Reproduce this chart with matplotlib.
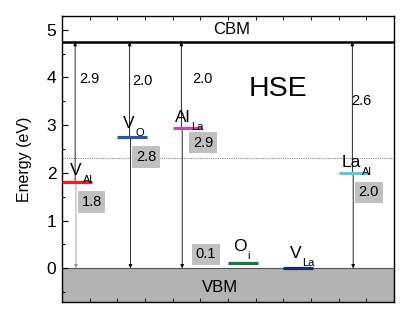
import matplotlib
matplotlib.use("Agg")
import matplotlib.pyplot as plt
from matplotlib.ticker import MultipleLocator

plt.rcParams['font.family'] = ['Liberation Sans', 'DejaVu Sans']

# data
cbm = 4.74
species = ["V", "V", "Al", "O", "V", "La"]
sites = ["Al", "O", "La", "i", "La", "Al"]
levels = [1.80, 2.75, 2.93, 0.12, 0.01, 1.99]
colors = ['#e8232a', '#2c56a8', '#c64da6', '#137a3f', '#1b2a6e', '#5ec8de']
level_labels = ["1.8", "2.8", "2.9", "0.1", None, "2.0"]
gap_labels = ["2.9", "2.0", "2.0", None, None, "2.6"]
has_arrows = [True, True, True, False, False, True]
ref_line = 2.32

fig = plt.figure(figsize=(4.15, 3.18), dpi=100)
ax = fig.add_axes([0.149, 0.050, 0.800, 0.900])
ax.set_xlim(0, 12)
ax.set_ylim(-0.71, 5.29)

# bands
ax.axhspan(-0.71, 0, facecolor='#b3b3b3', edgecolor='#555555', linewidth=0.8, zorder=1)
ax.axhline(cbm, color='black', linewidth=1.8, zorder=3)
ax.axhline(ref_line, color='#777777', linestyle=(0, (1.5, 1.2)), linewidth=0.6, zorder=2)
ax.text(6.15, 5.0, "CBM", ha='center', va='center', fontsize=12)
ax.text(5.7, -0.4, "VBM", ha='center', va='center', fontsize=12)
ax.text(7.8, 3.75, "HSE", ha='center', va='center', fontsize=20.5)

# layout of labels around each level segment
seg_w = 1.08
arrow_dx = [0.48, 0.45, 0.32, 0, 0, 0.5]
name_x = [0.29, 2.2, 4.08, 6.18, 8.24, 10.12]
name_y = [1.95, 2.94, 3.07, 0.36, 0.21, 2.12]
gap_pos = [(1.0, 3.97), (2.93, 3.93), (5.1, 3.97), None, None, (10.84, 3.51)]
box_pos = [(1.08, 1.39), (3.05, 2.33), (5.1, 2.63), (5.2, 0.29), None, (11.1, 1.59)]

for i, (e, c) in enumerate(zip(levels, colors)):
    x0 = 2 * i
    ax.plot([x0, x0 + seg_w], [e, e], color=c, linewidth=2.3, solid_capstyle='butt', zorder=5)
    t = ax.text(name_x[i], name_y[i], species[i], ha='left', va='baseline', fontsize=12.5, zorder=6)
    ax.annotate(sites[i], xy=(1, 0), xycoords=t, xytext=(0.8, -3.5), textcoords='offset points',
                ha='left', va='baseline', fontsize=8, zorder=6)
    if has_arrows[i]:
        xa = x0 + arrow_dx[i]
        down_col = '#999999' if i == 0 else 'black'
        ax.annotate("", xy=(xa, cbm), xytext=(xa, e),
                    arrowprops=dict(arrowstyle='-|>', color='black', lw=0.6,
                                    mutation_scale=5, shrinkA=0, shrinkB=0), zorder=4)
        ax.annotate("", xy=(xa + 0.03, 0), xytext=(xa + 0.03, e),
                    arrowprops=dict(arrowstyle='-|>', color=down_col, lw=0.6,
                                    mutation_scale=5, shrinkA=0, shrinkB=0), zorder=4)
    if gap_labels[i] is not None:
        gx, gy = gap_pos[i]
        ax.text(gx, gy, gap_labels[i], ha='center', va='center', fontsize=10.5)
    if level_labels[i] is not None:
        bx, by = box_pos[i]
        ax.text(bx, by, level_labels[i], ha='center', va='center', fontsize=10.5,
                bbox=dict(boxstyle='square,pad=0.25', facecolor='#c0c0c0', edgecolor='none'), zorder=6)

ax.xaxis.set_major_locator(MultipleLocator(1))
ax.yaxis.set_major_locator(MultipleLocator(1))
ax.yaxis.set_minor_locator(MultipleLocator(0.5))
ax.tick_params(axis='x', which='both', direction='in', top=True, bottom=True,
               labelbottom=False, length=3, width=0.6)
ax.tick_params(axis='y', which='major', direction='in', length=4, width=0.8, labelsize=12.5,
               right=False, pad=4)
ax.tick_params(axis='y', which='minor', direction='in', length=2.5, width=0.8, right=False)
ax.set_ylabel("Energy (eV)", fontsize=11.5)
ax.yaxis.set_label_coords(-0.09, 0.5)
for s in ax.spines.values():
    s.set_linewidth(1.0)

fig.savefig("out.png", dpi=100)
